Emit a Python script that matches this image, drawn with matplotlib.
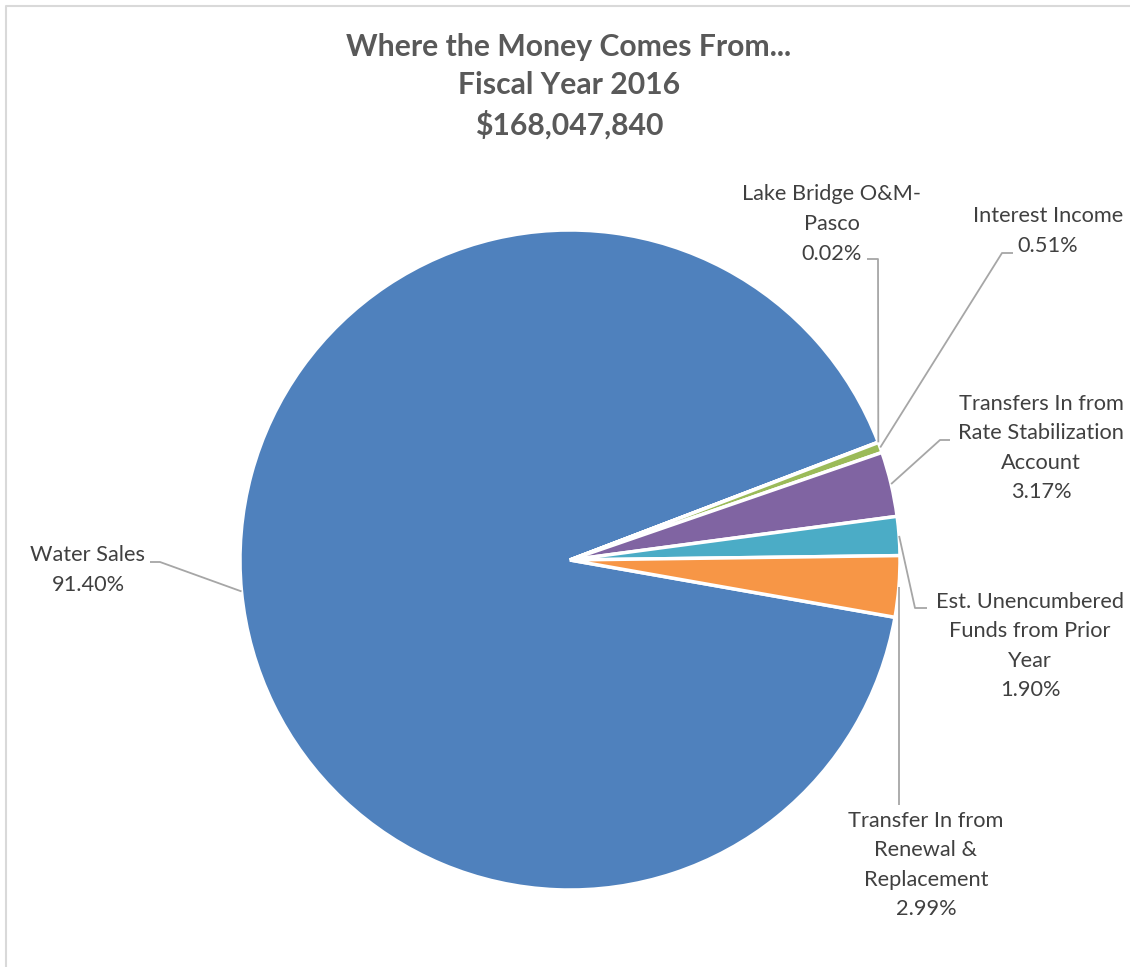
import numpy as np
import matplotlib
matplotlib.use("Agg")
import matplotlib.pyplot as plt

# revenue sources, percent of total
sources = ["Water Sales", "Lake Bridge O&M-\nPasco", "Interest Income",
           "Transfers In from\nRate Stabilization\nAccount",
           "Est. Unencumbered\nFunds from Prior\nYear",
           "Transfer In from\nRenewal &\nReplacement"]
shares = [91.40, 0.02, 0.51, 3.17, 1.90, 2.99]
colors = ["#4F81BD", "#C0504D", "#9BBB59", "#8064A2", "#4BACC6", "#F79646"]

title = "Where the Money Comes From...\nFiscal Year 2016\n$168,047,840"

W, H = 1130, 967
fig = plt.figure(figsize=(W / 100, H / 100), dpi=100)
ax = fig.add_axes([0, 0, 1, 1])
ax.set_xlim(0, W)
ax.set_ylim(0, H)
ax.axis("off")

cx, cy, R = 570, H - 560, 330
wedges, _ = ax.pie(shares, colors=colors, startangle=-10, counterclock=False,
                   center=(cx, cy), radius=R,
                   wedgeprops=dict(edgecolor="white", linewidth=2.5))
ax.set_xlim(0, W)
ax.set_ylim(0, H)
ax.set_aspect("equal")

# chart frame (top and left edges only)
ax.plot([6, 6, W], [0, H - 6, H - 6], color="#d9d9d9", lw=1.5, clip_on=False)

ax.text(569, H - 86, title, ha="center", va="center", fontsize=21.7,
        fontweight="bold", color="#595959", family="Lato", linespacing=1.45)

# label centres and leader-line elbows (pixel layout, y measured from top)
label_pos = [(88, 570), (832, 224), (1048, 231), (1041, 448), (1030, 646), (926, 865)]
elbows = [[(160, 562), (150, 562)],
          [(878, 259), (867, 259)],
          [(1002, 253), (1013, 253)],
          [(940, 440), (950, 440)],
          [(915, 608), (927, 608)],
          [(None, 805)]]

for w, name, v, (lx, ly), elb in zip(wedges, sources, shares, label_pos, elbows):
    mid = np.deg2rad((w.theta1 + w.theta2) / 2)
    ax_x = cx + R * np.cos(mid)
    ax_y = cy + R * np.sin(mid)
    xs, ys = [ax_x], [ax_y]
    for ex, ey in elb:
        xs.append(ax_x if ex is None else ex)
        ys.append(H - ey)
    ax.plot(xs, ys, color="#a6a6a6", lw=1.3, solid_capstyle="butt")
    ax.text(lx, H - ly, f"{name}\n{v:.2f}%", ha="center", va="center",
            fontsize=15.7, color="#404040", family="Lato", linespacing=1.6)

fig.savefig("out.png", dpi=100, facecolor="white")
